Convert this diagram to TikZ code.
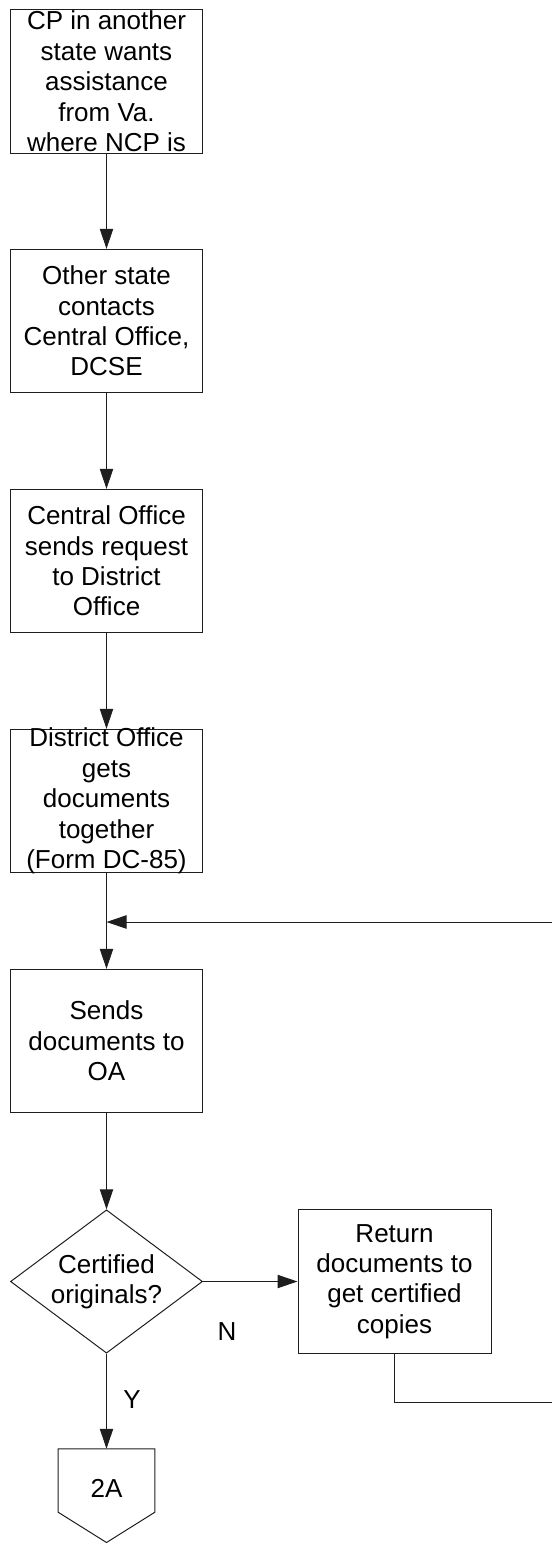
\documentclass[tikz,border=0pt]{standalone}
\usepackage{fontspec}
\setmainfont{Liberation Sans}
\definecolor{flowline}{RGB}{30,30,30}
\usetikzlibrary{arrows.meta,shapes.geometric}

\begin{document}
\begin{tikzpicture}[x=0.75pt,y=-0.75pt,
    stepbox/.style={draw=flowline, line width=0.75pt, inner sep=0pt,
                    minimum width=144pt, minimum height=107.5pt},
    decision/.style={diamond, draw=flowline, line width=0.75pt, inner sep=0pt,
                     minimum width=144pt, minimum height=107.5pt},
    steptext/.style={align=center, inner sep=0pt, font=\fontsize{19.5}{22.8}\selectfont},
    flow/.style={draw=flowline, line width=0.75pt, -{Triangle[length=15pt,width=10pt]}},
    link/.style={draw=flowline, line width=0.75pt}]
  \useasboundingbox (0,0) rectangle (552,1543);

  % Main column
  \node[stepbox] (request) at (106.5,81.5) {};
  \node[steptext] (requestT) at (request.center)
    {CP in another\\state wants\\assistance\\from Va.\\where NCP is};
  \node[stepbox] (contact) at (106.5,321) {};
  \node[steptext] (contactT) at (contact.center)
    {Other state\\contacts\\Central Office,\\DCSE};
  \node[stepbox] (central) at (106.5,561) {};
  \node[steptext] (centralT) at (central.center)
    {Central Office\\sends request\\to District\\Office};
  \node[stepbox] (district) at (106.5,801) {};
  \node[steptext] (districtT) at (district.center)
    {District Office\\gets\\documents\\together\\(Form DC-85)};
  \node[stepbox] (sends) at (106.5,1041) {};
  \node[steptext] (sendsT) at (sends.center)
    {Sends\\documents to\\OA};

  % Decision and return branch
  \node[decision] (certified) at (106.5,1281.5) {};
  \node[steptext] (certifiedT) at (certified.center)
    {Certified\\originals?};
  \node[stepbox, minimum width=144.75pt] (return) at (394.5,1281.5) {};
  \node[steptext] (returnT) at (return.center)
    {Return\\documents to\\get certified\\copies};

  % Off-page connector
  \node[inner sep=0pt, minimum width=72pt, minimum height=47.25pt] (page) at (106.5,1480.5) {};
  \draw[link] (page.north west) -- (page.north east) -- (page.south east)
    -- (106.5,1542.5) -- (page.south west) -- cycle;
  \node[steptext] (pageT) at (106.5,1488) {2A};

  % Labels
  \node[steptext] (no) at (227,1332) {N};
  \node[steptext] (yes) at (132,1400) {Y};

  % Connectors
  \draw[flow] (request) -- (contact);
  \draw[flow] (contact) -- (central);
  \draw[flow] (central) -- (district);
  \draw[flow] (district) -- (sends);
  \draw[flow] (sends) -- (certified);
  \draw[flow] (certified) -- (return);
  \draw[flow] (certified) -- (page.north);

  % Loop back from the return box
  \coordinate (loopA) at (575,1402);
  \coordinate (loopB) at (575,922);
  \draw[flow] (return.south) |- (loopA) -- (loopB) -- (district.south |- loopB);
\end{tikzpicture}
\end{document}
